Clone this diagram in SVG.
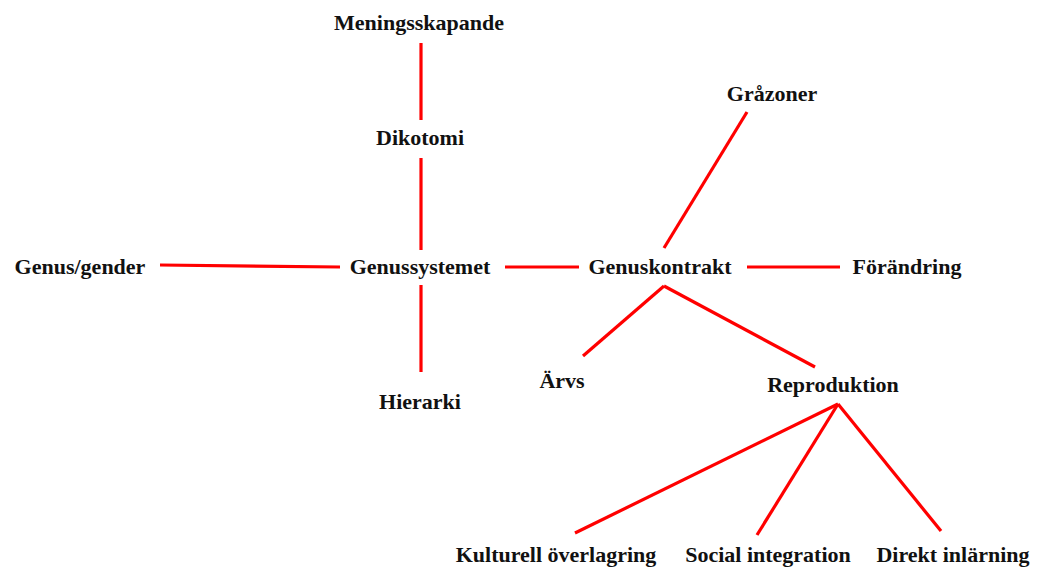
<svg xmlns="http://www.w3.org/2000/svg" width="1042" height="571" viewBox="0 0 1042 571">
<style>
text{font-family:"Liberation Serif","Times New Roman",serif;font-weight:bold;font-size:22px;fill:#111;text-anchor:middle}
.c line{stroke:#ff0000;stroke-width:3.2;stroke-linecap:butt}
</style>
<rect width="1042" height="571" fill="#fff"/>
<g class="c" id="connectors">
<line x1="421" y1="43" x2="421" y2="120"/>
<line x1="421" y1="158" x2="421" y2="250"/>
<line x1="421" y1="285" x2="421" y2="372"/>
<line x1="160" y1="265" x2="340" y2="267"/>
<line x1="505" y1="267" x2="579" y2="267"/>
<line x1="747" y1="267" x2="840" y2="267"/>
<line x1="747" y1="112" x2="664" y2="248"/>
<line x1="583" y1="356" x2="664" y2="286"/>
<line x1="664" y1="286" x2="815" y2="367"/>
<line x1="575" y1="533" x2="838" y2="404"/>
<line x1="757" y1="535" x2="838" y2="404"/>
<line x1="838" y1="404" x2="941" y2="531"/>
</g>
<g id="meningsskapande"><text x="419" y="30">Meningsskapande</text></g>
<g id="dikotomi"><text x="420" y="145">Dikotomi</text></g>
<g id="genus-gender"><text x="80" y="274">Genus/gender</text></g>
<g id="genussystemet"><text x="420" y="274">Genussystemet</text></g>
<g id="hierarki"><text x="420" y="409">Hierarki</text></g>
<g id="genuskontrakt"><text x="660" y="274">Genuskontrakt</text></g>
<g id="grazoner"><text x="772" y="101">Gråzoner</text></g>
<g id="forandring"><text x="907" y="274">Förändring</text></g>
<g id="arvs"><text x="562" y="388">Ärvs</text></g>
<g id="reproduktion"><text x="833" y="392">Reproduktion</text></g>
<g id="kulturell"><text x="556" y="562">Kulturell överlagring</text></g>
<g id="social"><text x="768" y="562">Social integration</text></g>
<g id="direkt"><text x="953" y="562">Direkt inlärning</text></g>
</svg>
